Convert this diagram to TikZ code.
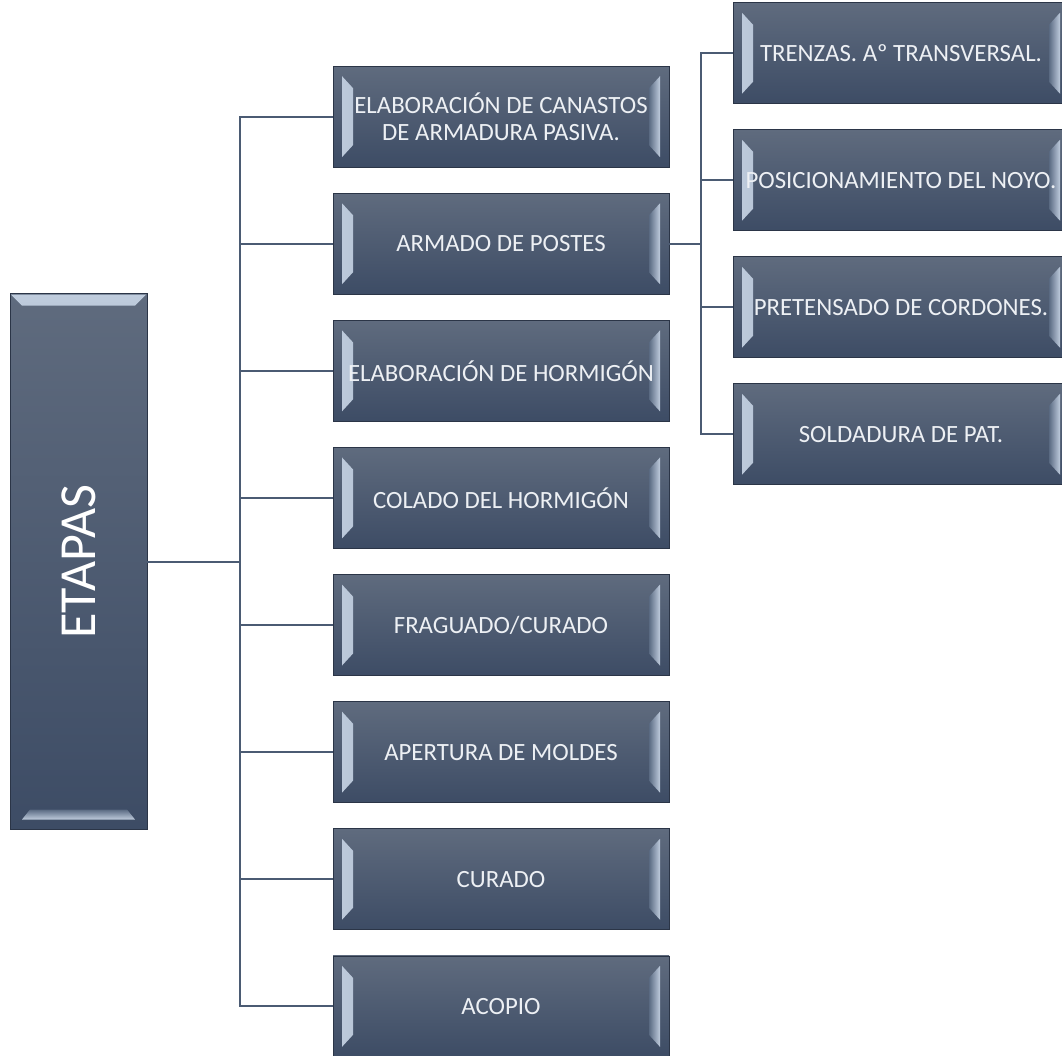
\documentclass[tikz,border=0pt]{standalone}
\usepackage{fontspec}
\setmainfont{Carlito}
\usepackage{graphicx}
\usetikzlibrary{calc}

\definecolor{boxtop}{HTML}{5F6B7E}
\definecolor{boxbot}{HTML}{3D4C65}
\definecolor{facetlight}{HTML}{BFCCDD}
\definecolor{facetdark}{HTML}{5A6A82}
\definecolor{linkcol}{HTML}{4B5B73}
\definecolor{labelcol}{HTML}{EDF0F4}

\tikzset{
  stage/.style = {rectangle, draw = boxbot!70!black, line width = 0.6pt,
    top color = boxtop, bottom color = boxbot,
    minimum width = 336pt, minimum height = 101pt, inner sep = 0pt,
    text = labelcol, align = center, font = \fontsize{24.8}{27}\selectfont,
    path picture = {
      \shade[left color = facetlight, right color = facetdark]
        ([shift={(9pt,-10pt)}]path picture bounding box.north west)
        -- ([shift={(20pt,-22pt)}]path picture bounding box.north west)
        -- ([shift={(20pt,22pt)}]path picture bounding box.south west)
        -- ([shift={(9pt,10pt)}]path picture bounding box.south west) -- cycle;
      \shade[left color = facetdark, right color = facetlight]
        ([shift={(-9pt,-10pt)}]path picture bounding box.north east)
        -- ([shift={(-20pt,-22pt)}]path picture bounding box.north east)
        -- ([shift={(-20pt,22pt)}]path picture bounding box.south east)
        -- ([shift={(-9pt,10pt)}]path picture bounding box.south east) -- cycle;
    }},
  rootbox/.style = {rectangle, draw = boxbot!70!black, line width = 0.6pt,
    top color = boxtop, bottom color = boxbot,
    minimum width = 137pt, minimum height = 536pt, inner sep = 0pt,
    text = white, font = \fontsize{52}{56}\selectfont,
    path picture = {
      \shade[top color = facetlight, bottom color = boxtop]
        ([shift={(1pt,-1pt)}]path picture bounding box.north west)
        -- ([shift={(-1pt,-1pt)}]path picture bounding box.north east)
        -- ([shift={(-12pt,-12pt)}]path picture bounding box.north east)
        -- ([shift={(12pt,-12pt)}]path picture bounding box.north west) -- cycle;
      \shade[top color = facetdark, bottom color = facetlight]
        ([shift={(20pt,20pt)}]path picture bounding box.south west)
        -- ([shift={(-20pt,20pt)}]path picture bounding box.south east)
        -- ([shift={(-12pt,10pt)}]path picture bounding box.south east)
        -- ([shift={(12pt,10pt)}]path picture bounding box.south west) -- cycle;
    }},
}

\begin{document}
\begin{tikzpicture}[
  grow' = right,
  level 1/.style = {level distance = 422.5pt, sibling distance = 127.1pt},
  level 2/.style = {level distance = 400pt, sibling distance = 127pt},
  every child node/.style = {stage},
  edge from parent/.style = {draw = linkcol, line width = 2pt},
  edge from parent path = {(\tikzparentnode.east)
    -| ($(\tikzparentnode.east)!.5!(\tikzchildnode.west)$) |- (\tikzchildnode.west)},
  ]
  \useasboundingbox (0,0) rectangle (1062pt,-1055pt);
  \node[rootbox] (etapas) at (78.5pt,-561.5pt) {\rotatebox{90}{ETAPAS}}
  child { node (canastos) {ELABORACIÓN DE CANASTOS\\DE ARMADURA PASIVA.} }
  child { node (armado) {ARMADO DE POSTES}
          child { node (trenzas) {TRENZAS. Aº TRANSVERSAL.} }
          child { node (noyo) {POSICIONAMIENTO DEL NOYO.} }
          child { node (cordones) {PRETENSADO DE CORDONES.} }
          child { node (soldadura) {SOLDADURA DE PAT.} }
        }
  child { node (hormigon) {ELABORACIÓN DE HORMIGÓN} }
  child { node (colado) {COLADO DEL HORMIGÓN} }
  child { node (fraguado) {FRAGUADO/CURADO} }
  child { node (apertura) {APERTURA DE MOLDES} }
  child { node (curado) {CURADO} }
  child { node (acopio) {ACOPIO} };
\end{tikzpicture}
\end{document}
